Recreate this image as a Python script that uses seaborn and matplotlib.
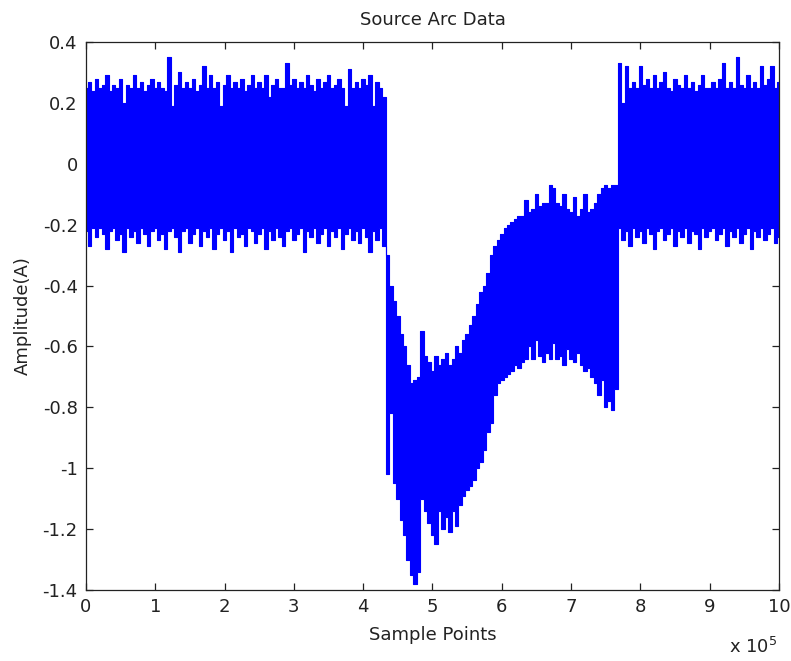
import matplotlib
matplotlib.use("Agg")
import matplotlib.pyplot as plt
import numpy as np
import pandas as pd
import seaborn as sns

# sample position in units of 1e5 points, one envelope value every 5000 samples
sample_pos = np.linspace(0, 10, 201)

upper_env = [
    # 0.00 - 4.30
    0.25, 0.27, 0.24, 0.28, 0.25, 0.26, 0.29, 0.24, 0.26, 0.25,
    0.28, 0.20, 0.26, 0.25, 0.29, 0.25, 0.27, 0.24, 0.26, 0.28,
    0.25, 0.27, 0.25, 0.24, 0.35, 0.19, 0.26, 0.30, 0.25, 0.27,
    0.25, 0.28, 0.24, 0.26, 0.32, 0.25, 0.29, 0.25, 0.27, 0.19,
    0.26, 0.29, 0.25, 0.27, 0.25, 0.28, 0.24, 0.26, 0.29, 0.25,
    0.27, 0.25, 0.29, 0.22, 0.26, 0.28, 0.25, 0.25, 0.33, 0.26,
    0.28, 0.25, 0.27, 0.25, 0.29, 0.26, 0.24, 0.28, 0.25, 0.27,
    0.29, 0.25, 0.26, 0.28, 0.25, 0.19, 0.31, 0.25, 0.27, 0.25,
    0.28, 0.26, 0.29, 0.19, 0.27, 0.25, 0.22,
    # 4.35 - 7.65 (arc)
    -0.30, -0.40, -0.45, -0.50, -0.56, -0.60, -0.66, -0.72, -0.71, -0.70,
    -0.55, -0.63, -0.65, -0.68, -0.63, -0.66, -0.64, -0.62, -0.66, -0.64,
    -0.60, -0.62, -0.58, -0.56, -0.53, -0.50, -0.46, -0.42, -0.40, -0.36,
    -0.30, -0.27, -0.25, -0.23, -0.21, -0.20, -0.19, -0.18, -0.17, -0.17,
    -0.12, -0.16, -0.15, -0.10, -0.14, -0.13, -0.13, -0.07, -0.08, -0.13,
    -0.14, -0.10, -0.15, -0.16, -0.11, -0.17, -0.15, -0.10, -0.16, -0.15,
    -0.13, -0.10, -0.08, -0.07, -0.08, -0.07, -0.07,
    # 7.70 - 10.00
    0.33, 0.20, 0.32, 0.25, 0.27, 0.25, 0.32, 0.26, 0.28, 0.25,
    0.29, 0.25, 0.27, 0.30, 0.25, 0.24, 0.28, 0.26, 0.25, 0.29,
    0.25, 0.27, 0.24, 0.26, 0.29, 0.25, 0.25, 0.27, 0.25, 0.28,
    0.33, 0.25, 0.27, 0.25, 0.35, 0.26, 0.25, 0.29, 0.25, 0.27,
    0.25, 0.32, 0.26, 0.28, 0.32, 0.25, 0.27,
]

lower_env = [
    # 0.00 - 4.30
    -0.22, -0.27, -0.21, -0.24, -0.21, -0.23, -0.28, -0.22, -0.21, -0.25,
    -0.23, -0.29, -0.21, -0.24, -0.22, -0.26, -0.21, -0.23, -0.27, -0.22,
    -0.21, -0.25, -0.23, -0.28, -0.22, -0.21, -0.24, -0.29, -0.22, -0.21,
    -0.26, -0.23, -0.21, -0.27, -0.22, -0.24, -0.21, -0.28, -0.23, -0.21,
    -0.25, -0.22, -0.29, -0.21, -0.24, -0.23, -0.27, -0.21, -0.22, -0.26,
    -0.23, -0.21, -0.28, -0.22, -0.25, -0.21, -0.24, -0.27, -0.22, -0.21,
    -0.25, -0.23, -0.21, -0.29, -0.22, -0.24, -0.21, -0.26, -0.23, -0.21,
    -0.27, -0.22, -0.24, -0.21, -0.28, -0.23, -0.21, -0.25, -0.22, -0.26,
    -0.21, -0.24, -0.29, -0.22, -0.25, -0.21, -0.27,
    # 4.35 - 7.65 (arc)
    -1.02, -0.82, -1.05, -1.10, -1.17, -1.22, -1.30, -1.35, -1.38, -1.34,
    -1.10, -1.14, -1.18, -1.22, -1.25, -1.14, -1.20, -1.16, -1.21, -1.14,
    -1.19, -1.12, -1.09, -1.07, -1.06, -1.04, -1.00, -0.98, -0.94, -0.88,
    -0.85, -0.76, -0.72, -0.71, -0.70, -0.69, -0.68, -0.66, -0.67, -0.65,
    -0.64, -0.60, -0.64, -0.58, -0.63, -0.65, -0.62, -0.64, -0.59, -0.64,
    -0.63, -0.66, -0.61, -0.64, -0.65, -0.62, -0.66, -0.68, -0.67, -0.70,
    -0.72, -0.76, -0.71, -0.80, -0.78, -0.81, -0.74,
    # 7.70 - 10.00
    -0.21, -0.25, -0.22, -0.27, -0.21, -0.24, -0.22, -0.26, -0.21, -0.23,
    -0.28, -0.22, -0.21, -0.25, -0.23, -0.21, -0.27, -0.22, -0.24, -0.21,
    -0.26, -0.22, -0.23, -0.28, -0.21, -0.24, -0.22, -0.21, -0.25, -0.23,
    -0.21, -0.27, -0.22, -0.24, -0.21, -0.26, -0.23, -0.21, -0.28, -0.22,
    -0.24, -0.21, -0.25, -0.23, -0.21, -0.26, -0.24,
]

x_ticks = list(range(0, 11))
y_ticks = [-1.4, -1.2, -1.0, -0.8, -0.6, -0.4, -0.2, 0.0, 0.2, 0.4]
y_tick_labels = ["-1.4", "-1.2", "-1", "-0.8", "-0.6", "-0.4", "-0.2", "0", "0.2", "0.4"]


def main():
    sns.set_style("ticks")
    plt.rcParams["font.family"] = ["DejaVu Sans"]
    df = pd.DataFrame({"pos": sample_pos, "upper": upper_env, "lower": lower_env})

    fig = plt.figure(figsize=(7.91, 6.61), dpi=100)
    fig.patch.set_facecolor("white")
    ax = fig.add_axes([0.1087, 0.1074, 0.8761, 0.8291])

    blue = "#0000ff"
    # signal band between the envelopes, edges traced as thin lines
    ax.fill_between(df["pos"], df["lower"], df["upper"], step="mid", color=blue, lw=0)
    sns.lineplot(data=df, x="pos", y="upper", drawstyle="steps-mid", color=blue, lw=0.8, ax=ax)
    sns.lineplot(data=df, x="pos", y="lower", drawstyle="steps-mid", color=blue, lw=0.8, ax=ax)

    ax.set_xlim(0, 10)
    ax.set_ylim(-1.4, 0.4)
    ax.set_xticks(x_ticks)
    ax.set_xticklabels([str(t) for t in x_ticks])
    ax.set_yticks(y_ticks)
    ax.set_yticklabels(y_tick_labels)
    ax.tick_params(direction="in", length=5, width=0.9, top=True, right=True,
                   labelsize=13, colors="#222222", pad=6)
    for s in ax.spines.values():
        s.set_visible(True)
        s.set_linewidth(0.9)
        s.set_color("#222222")

    ax.set_title("Source Arc Data", fontsize=13, pad=12, color="#222222")
    ax.set_xlabel("Sample Points", fontsize=13, color="#222222")
    ax.xaxis.set_label_coords(0.5, -0.066)
    ax.set_ylabel("Amplitude(A)", fontsize=13, color="#222222", labelpad=8)
    fig.text(0.922, 0.006, r"x 10$^{5}$", fontsize=13, color="#222222", va="bottom", ha="left")

    fig.savefig("out.png", dpi=100, facecolor="white")
    plt.close(fig)


if __name__ == "__main__":
    main()
